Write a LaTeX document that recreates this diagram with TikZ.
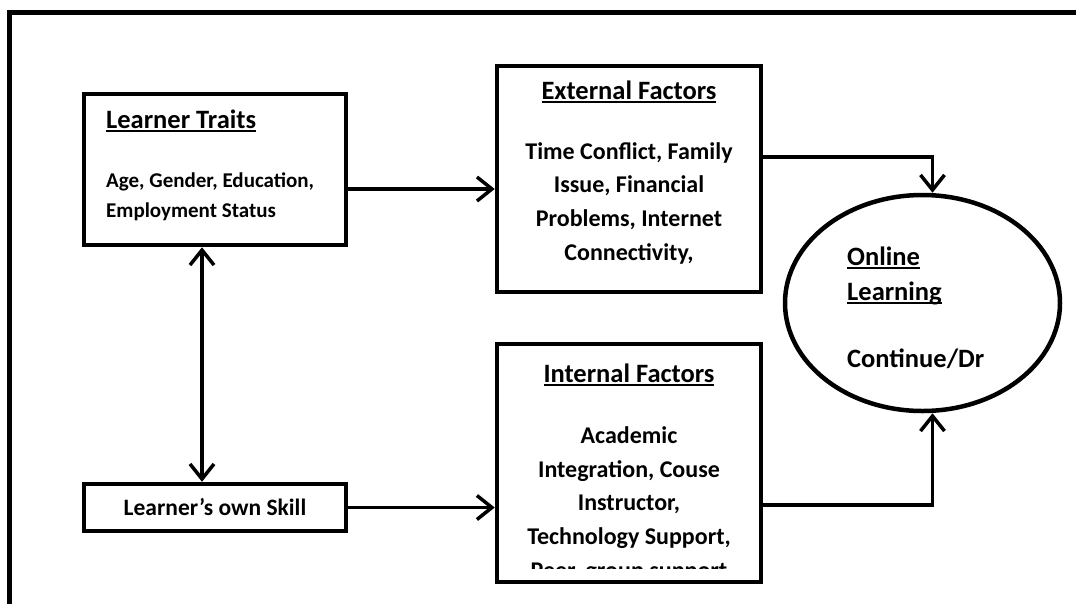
\documentclass[tikz,border=0pt]{standalone}
\usepackage{fontspec}
\setmainfont{Carlito}
\usetikzlibrary{arrows.meta,shapes.geometric}

\newsavebox{\ulbox}
\newcommand{\ulhead}[1]{\sbox{\ulbox}{#1}\rlap{\rule[-4pt]{\wd\ulbox}{1.8pt}}\usebox{\ulbox}}

\tikzset{
  box/.style={draw, rectangle, line width=4.5pt, inner sep=0pt},
  link/.style={line width=3.5pt, -{Straight Barb[length=15pt,width=24pt,line width=3.5pt]}},
  twoway/.style={line width=3.5pt, {Straight Barb[length=15pt,width=24pt,line width=3.5pt]}-{Straight Barb[length=15pt,width=24pt,line width=3.5pt]}},
  head/.style={font=\fontsize{26.5}{35}\selectfont\bfseries, inner sep=0pt},
  body/.style={font=\fontsize{24}{33.6}\selectfont\bfseries, inner sep=0pt, align=center},
}

\begin{document}
\begin{tikzpicture}[x=1pt, y=-1pt]
\clip (0,0) rectangle (1076,603);
\draw[line width=5pt] (9.5,620) -- (9.5,12.5) -- (1090,12.5);

\node[box, minimum width=262pt, minimum height=151pt] (traits) at (215,169.5) {};
\node[box, minimum width=262pt, minimum height=47pt, font=\fontsize{23.5}{28}\selectfont\bfseries] (skill) at (215,507.5) {Learner’s own Skill};
\node[box, minimum width=264pt, minimum height=226pt] (ext) at (629,179) {};
\node[box, minimum width=264pt, minimum height=238pt] (int) at (629,463) {};
\node[draw, ellipse, line width=4.5pt, minimum width=275pt, minimum height=216pt, inner sep=0pt] (goal) at (922.5,303) {};

% multi-line nodes sit on the baseline of their last line
\node[head, anchor=base west] (traitshead) at (106,128) {\ulhead{Learner Traits}};
\node[font=\fontsize{21}{29.5}\selectfont\bfseries, inner sep=0pt, align=left, anchor=base west] (traitstext) at (106,217) {Age, Gender, Education,\\Employment Status};

\node[head, anchor=base] (exthead) at (629,99) {\ulhead{External Factors}};
\node[body, anchor=base] (exttext) at (629,260) {Time Conflict, Family\\Issue, Financial\\Problems, Internet\\Connectivity,};

\node[head, anchor=base] (inthead) at (629,382) {\ulhead{Internal Factors}};
\begin{scope}
  \clip (500,400) rectangle (758,568);
  \node[body, anchor=base] (inttext) at (629,578) {Academic\\Integration, Couse\\Instructor,\\Technology Support,\\Peer, group support};
\end{scope}

\node[head, align=left, anchor=base west] (goaltext) at (847,367) {\ulhead{Online}\\\ulhead{Learning}\\[32pt]Continue/Dr};

\coordinate (t1) at ([yshift=-19.5pt]traits.east);
\draw[link] (t1) -- (t1 -| ext.west);
\draw[link] (skill.east) -- (skill.east -| int.west);
\draw[twoway] ([xshift=-13pt]traits.south) -- ([xshift=-13pt]skill.north);
\coordinate (e1) at ([yshift=22pt]ext.east);
\draw[link] (e1) -| ([xshift=10pt]goal.north);
\coordinate (i1) at ([yshift=-42pt]int.east);
\draw[link] (i1) -| ([xshift=10pt]goal.south);
\end{tikzpicture}
\end{document}
